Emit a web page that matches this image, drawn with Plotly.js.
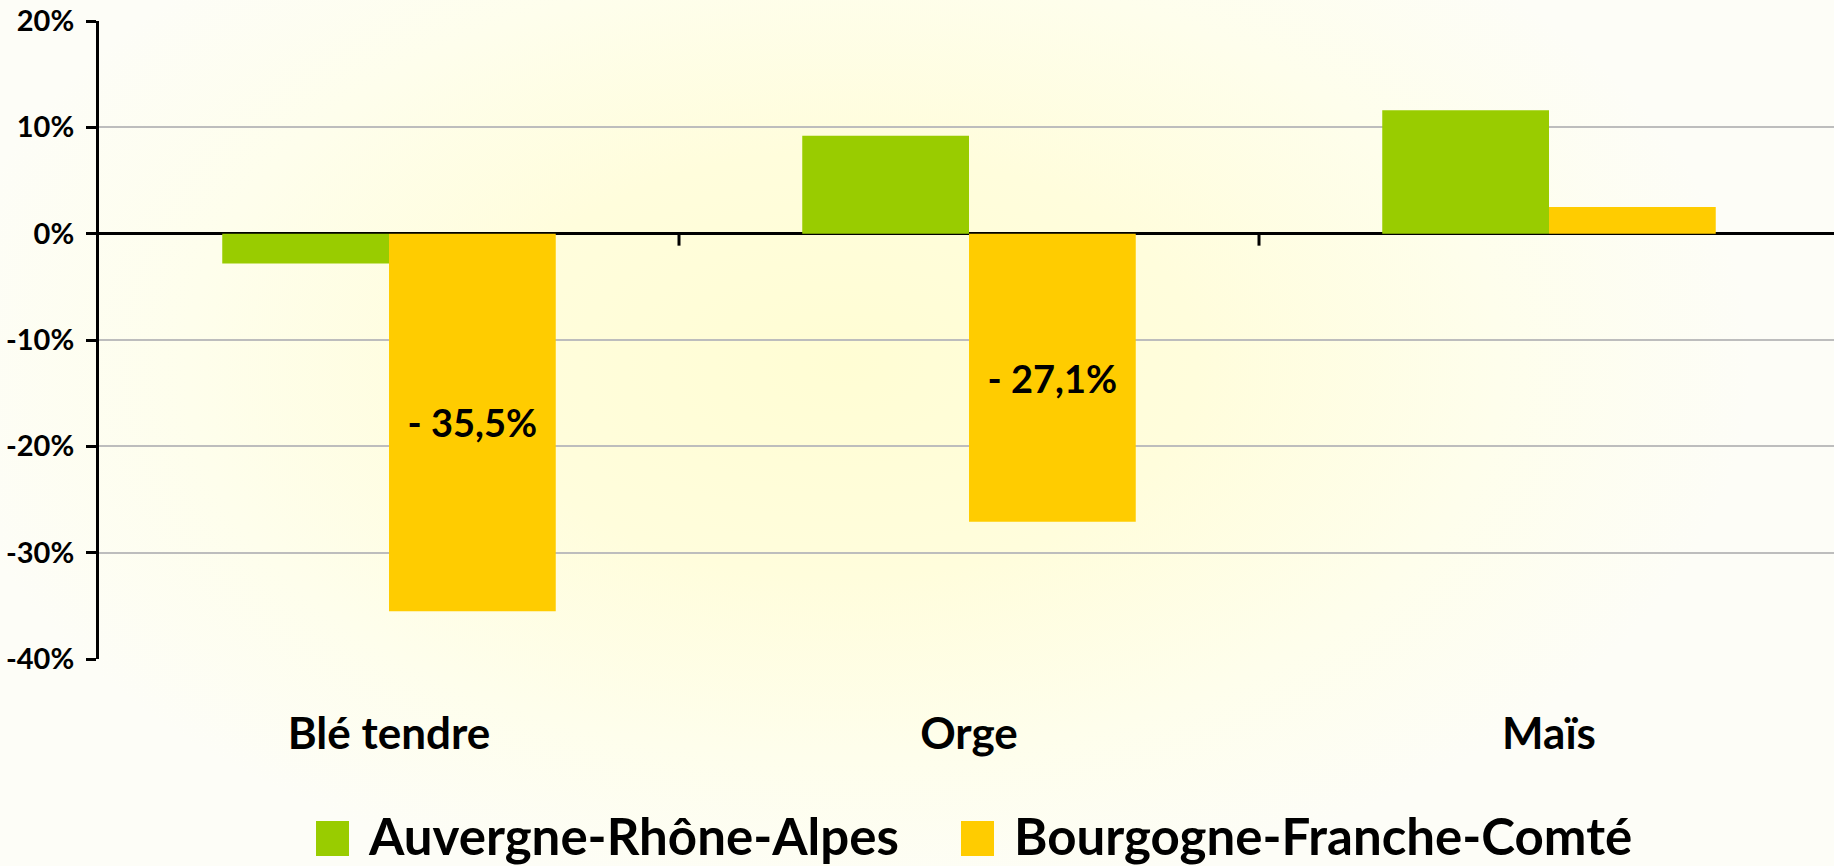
<!DOCTYPE html>
<html>
<head>
<meta charset="utf-8">
<script src="https://cdn.plot.ly/plotly-3.0.1.min.js"></script>
<style>
  html, body { margin: 0; padding: 0; }
  body {
    width: 1834px; height: 866px; overflow: hidden;
    background: radial-gradient(ellipse 55% 70% at 46% 42%, #FFFDD4 0%, #FFFDDC 35%, #FEFEEC 65%, #FDFDF7 90%);
  }
  #chart { width: 1834px; height: 866px; }
</style>
</head>
<body>
<div id="chart"></div>
<script>
// ---- data ----
const categories = ['Blé tendre', 'Orge', 'Maïs'];
const seriesNames = ['Auvergne-Rhône-Alpes', 'Bourgogne-Franche-Comté'];
const auvergneValues = [-2.8, 9.2, 11.6];
const bourgogneValues = [-35.5, -27.1, 2.5];
const bourgogneLabels = ['- 35,5%', '- 27,1%', ''];
const seriesColors = ['#99CC00', '#FFCC00'];
const yTickValues = [-40, -30, -20, -10, 0, 10, 20];
const yTickLabels = ['-40%', '-30%', '-20%', '-10%', '0%', '10%', '20%'];
const boundaryTicks = [0.5, 1.5];

// ---- layout constants ----
const W = 1834, H = 866;
const M = { l: 99, r: 0, t: 21, b: 207 };
const plotW = W - M.l - M.r, plotH = H - M.t - M.b;
const px2x = p => (p - M.l) / plotW;
const px2y = p => (H - M.b - p) / plotH;
const FONT = 'Lato, "Open Sans", sans-serif';
const xRange = [-0.5, -0.5 + plotW / 580];

const traces = [
  {
    type: 'bar', x: categories, y: auvergneValues, name: seriesNames[0],
    marker: { color: seriesColors[0] }, showlegend: false, hoverinfo: 'skip'
  },
  {
    type: 'bar', x: categories, y: bourgogneValues, name: seriesNames[1],
    marker: { color: seriesColors[1] }, showlegend: false, hoverinfo: 'skip',
    text: bourgogneLabels, textposition: 'inside', insidetextanchor: 'middle',
    textangle: 0, constraintext: 'none',
    textfont: { family: FONT, size: 38, color: '#000', weight: 'bold' }
  }
];

const shapes = [];
const annotations = [];

// category boundary ticks hanging below the zero line
boundaryTicks.forEach(b => {
  shapes.push({
    type: 'line', xref: 'x', yref: 'y', ysizemode: 'pixel', yanchor: 0,
    x0: b, x1: b, y0: 0, y1: -12,
    line: { color: '#000', width: 3 }
  });
});

// manual legend (large squares like the original)
const legendItems = [
  { sq: [316, 349], tx: 366 },
  { sq: [961, 994], tx: 1012 }
];
legendItems.forEach((it, i) => {
  shapes.push({
    type: 'rect', xref: 'paper', yref: 'paper',
    x0: px2x(it.sq[0]), x1: px2x(it.sq[1]), y0: px2y(856), y1: px2y(821),
    fillcolor: seriesColors[i], line: { width: 0 }
  });
  annotations.push({
    xref: 'paper', yref: 'paper', x: px2x(it.tx), y: px2y(835),
    xanchor: 'left', yanchor: 'middle', showarrow: false,
    text: seriesNames[i],
    font: { family: FONT, size: 51, color: '#000', weight: 'bold' }
  });
});

const layout = {
  width: W, height: H,
  margin: M,
  paper_bgcolor: 'rgba(0,0,0,0)',
  plot_bgcolor: 'rgba(0,0,0,0)',
  barmode: 'group',
  bargap: 0.425,
  bargroupgap: 0,
  showlegend: false,
  font: { family: FONT, color: '#000' },
  xaxis: {
    type: 'category', range: xRange, fixedrange: true,
    showgrid: false, showline: false, zeroline: false, ticks: '',
    tickfont: { family: FONT, size: 44, color: '#000', weight: 'bold' },
    ticklabelstandoff: 45
  },
  yaxis: {
    range: [-40, 20], fixedrange: true,
    tickmode: 'array', tickvals: yTickValues, ticktext: yTickLabels,
    ticks: 'outside', ticklen: 10, tickwidth: 3, tickcolor: '#000',
    showline: true, linecolor: '#000', linewidth: 3,
    showgrid: true, gridcolor: '#BDBDBD', gridwidth: 2,
    zeroline: true, zerolinecolor: '#000', zerolinewidth: 3,
    tickfont: { family: FONT, size: 29, color: '#000', weight: 'bold' },
    ticklabelstandoff: 6
  },
  shapes: shapes,
  annotations: annotations
};

Plotly.newPlot('chart', traces, layout, { staticPlot: true, displayModeBar: false });
</script>
</body>
</html>
